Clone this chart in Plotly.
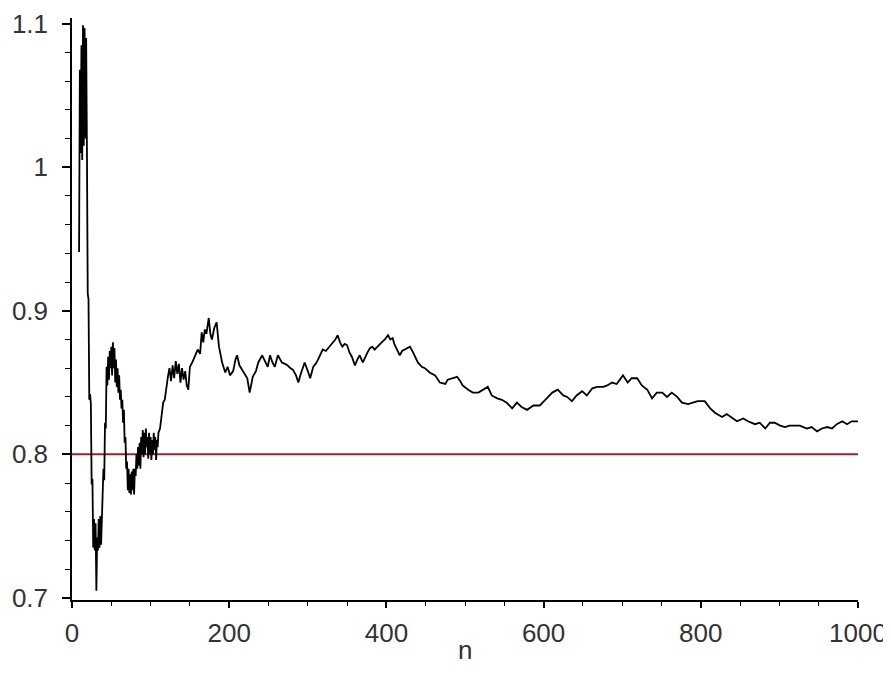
import plotly.graph_objects as go

# ---- data ----
n_early = list(range(9, 111))
v_early = [
    0.941, 1.068, 1.010, 1.085, 1.005, 1.099, 1.015, 1.097, 1.020, 1.090,  # 9-18
    1.012, 0.912, 0.908, 0.838, 0.842, 0.835, 0.779, 0.783, 0.735, 0.755,  # 19-28
    0.733, 0.752, 0.705, 0.742, 0.733, 0.755, 0.735, 0.757, 0.737, 0.760,  # 29-38
    0.770, 0.790, 0.782, 0.822, 0.818, 0.861, 0.848, 0.868, 0.852, 0.872,  # 39-48
    0.860, 0.875, 0.855, 0.878, 0.860, 0.874, 0.850, 0.866, 0.847, 0.860,  # 49-58
    0.843, 0.855, 0.838, 0.845, 0.832, 0.838, 0.822, 0.831, 0.808, 0.812,  # 59-68
    0.790, 0.795, 0.775, 0.790, 0.773, 0.786, 0.772, 0.788, 0.775, 0.790,  # 69-78
    0.772, 0.790, 0.785, 0.800, 0.790, 0.805, 0.792, 0.808, 0.790, 0.812,  # 79-88
    0.800, 0.817, 0.798, 0.815, 0.800, 0.818, 0.805, 0.812, 0.797, 0.815,  # 89-98
    0.800, 0.812, 0.796, 0.810, 0.800, 0.815, 0.803, 0.812, 0.796, 0.810,  # 99-108
    0.805, 0.815,                                                          # 109-110
]

n_late = [
    112, 114, 116, 118, 120, 122, 124, 126, 128, 130, 132, 134, 136, 138, 140,
    142, 144, 146, 148, 150, 153, 156, 160, 163, 165, 167, 169, 171, 174, 176,
    178, 181, 184, 187, 191, 195, 198, 201, 205, 208, 210, 213, 216, 219, 223,
    226, 230, 234, 237, 242, 246, 249, 252, 255, 258, 262, 265, 267, 271, 274,
    278, 281, 285, 288, 291, 293, 296, 300, 303, 307, 310, 313, 316, 319, 323,
    326, 329, 332, 335, 338, 341, 344, 347, 350, 353, 356, 360, 363, 366, 370,
    373, 376, 379, 382, 385, 390, 394, 398, 402, 405, 408, 410, 413, 417, 420,
    424, 427, 430, 433, 436, 440, 445, 449, 455, 462, 468, 475, 478, 485, 490,
    494, 497, 504, 510, 517, 523, 529, 534, 541, 547, 553, 560, 566, 572, 579,
    587, 595, 604, 611, 618, 625, 630, 636, 642, 649, 655, 662, 668, 676, 681,
    687, 693, 701, 707, 712, 719, 725, 732, 738, 744, 751, 757, 763, 770, 776,
    784, 790, 796, 805, 812, 818, 827, 833, 840, 846, 854, 860, 869, 875, 882,
    888, 894, 901, 907, 913, 920, 926, 935, 941, 948, 954, 961, 967, 973, 980,
    986, 992, 1000,
]
v_late = [
    0.818, 0.826, 0.836, 0.838, 0.848, 0.854, 0.860, 0.851, 0.862, 0.853, 0.865, 0.856, 0.863, 0.850, 0.860,
    0.852, 0.858, 0.848, 0.845, 0.861, 0.864, 0.868, 0.873, 0.870, 0.885, 0.878, 0.887, 0.884, 0.895, 0.884,
    0.880, 0.888, 0.892, 0.875, 0.864, 0.857, 0.861, 0.855, 0.858, 0.866, 0.869, 0.862, 0.859, 0.857, 0.853,
    0.843, 0.854, 0.858, 0.864, 0.869, 0.864, 0.861, 0.869, 0.864, 0.861, 0.869, 0.866, 0.864, 0.863, 0.862,
    0.860, 0.859, 0.855, 0.850, 0.856, 0.859, 0.864, 0.858, 0.853, 0.861, 0.863, 0.866, 0.869, 0.873, 0.872,
    0.874, 0.876, 0.878, 0.880, 0.883, 0.878, 0.875, 0.877, 0.876, 0.871, 0.868, 0.862, 0.866, 0.869, 0.864,
    0.868, 0.871, 0.874, 0.875, 0.873, 0.876, 0.878, 0.880, 0.883, 0.880, 0.881, 0.877, 0.873, 0.869, 0.872,
    0.873, 0.874, 0.875, 0.872, 0.868, 0.864, 0.861, 0.860, 0.857, 0.855, 0.850, 0.849, 0.852, 0.853, 0.854,
    0.851, 0.848, 0.845, 0.843, 0.843, 0.845, 0.847, 0.841, 0.839, 0.838, 0.836, 0.832, 0.836, 0.833, 0.831,
    0.834, 0.834, 0.839, 0.843, 0.845, 0.841, 0.840, 0.837, 0.841, 0.844, 0.841, 0.846, 0.847, 0.847, 0.848,
    0.850, 0.849, 0.855, 0.850, 0.853, 0.853, 0.848, 0.845, 0.839, 0.843, 0.843, 0.840, 0.843, 0.840, 0.836,
    0.835, 0.836, 0.837, 0.837, 0.832, 0.829, 0.826, 0.828, 0.825, 0.823, 0.825, 0.823, 0.821, 0.822, 0.818,
    0.822, 0.822, 0.820, 0.819, 0.820, 0.820, 0.820, 0.818, 0.819, 0.816, 0.818, 0.819, 0.818, 0.821, 0.823,
    0.821, 0.823, 0.823,
]

n_values = n_early + n_late
ratio_values = v_early + v_late

ref_n = [0, 1000]
ref_level = [0.8, 0.8]

y_ticks = [0.7, 0.8, 0.9, 1.0, 1.1]
y_tick_labels = ["0.7", "0.8", "0.9", "1", "1.1"]
x_ticks = [0, 200, 400, 600, 800, 1000]
x_tick_labels = ["0", "200", "400", "600", "800", "1000"]
x_title = "n"

FONT = "Liberation Sans, Arial, sans-serif"

fig = go.Figure()
fig.add_trace(go.Scatter(x=ref_n, y=ref_level, mode="lines",
                         line=dict(color="#a3202a", width=2), hoverinfo="skip"))
fig.add_trace(go.Scatter(x=n_values, y=ratio_values, mode="lines",
                         line=dict(color="black", width=1.8)))

# the page body adds an 8 px offset, margins compensate for it
fig.update_layout(
    width=891, height=683,
    margin=dict(l=64, r=41, t=10, b=91),
    paper_bgcolor="white", plot_bgcolor="white",
    showlegend=False,
    font=dict(family=FONT, size=26, color="#333333"),
)
fig.update_xaxes(
    range=[0, 1000], showgrid=False, zeroline=False, automargin=False,
    showline=True, linecolor="black", linewidth=1.5,
    tickvals=x_ticks, ticktext=x_tick_labels,
    ticks="outside", ticklen=6, tickwidth=1.5, tickcolor="black",
    ticklabelstandoff=3,
    minor=dict(ticks="outside", dtick=50, ticklen=4, tickwidth=1, tickcolor="black"),
)
fig.update_yaxes(
    range=[0.6985, 1.104], showgrid=False, zeroline=False, automargin=False,
    showline=True, linecolor="black", linewidth=1.5,
    tickvals=y_ticks, ticktext=y_tick_labels,
    ticks="outside", ticklen=8, tickwidth=1.5, tickcolor="black",
    ticklabelstandoff=9,
    minor=dict(ticks="outside", dtick=0.02, tick0=0.7, ticklen=5, tickwidth=1, tickcolor="black"),
)
fig.add_annotation(text=x_title, xref="paper", yref="paper", x=0.5, y=0,
                   xanchor="center", yanchor="top", yshift=-33, showarrow=False,
                   font=dict(family=FONT, size=26, color="#333333"))

fig.write_html("out.html")
